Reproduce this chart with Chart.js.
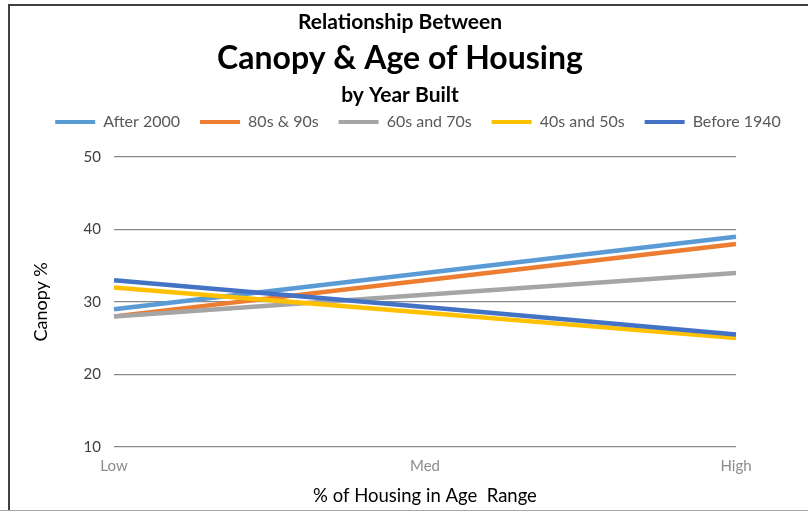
<!DOCTYPE html>
<html>
<head>
<meta charset="utf-8">
<script src="https://cdn.jsdelivr.net/npm/chart.js@4/dist/chart.umd.min.js"></script>
<style>
  html, body { margin: 0; padding: 0; background: #fff; }
  #wrap { position: relative; width: 808px; height: 511px; }
  #frame {
    position: absolute; left: 8px; top: 4px; right: 0; bottom: 0;
    border-top: 2px solid #404040; border-left: 2px solid #404040;
  }
  #baseline { position: absolute; left: 0; right: 0; bottom: 0; height: 1px; background: #a6a6a6; }
  canvas { position: absolute; left: 0; top: 0; }
</style>
</head>
<body>
<div id="wrap">
  <div id="frame"></div>
  <div id="baseline"></div>
  <canvas id="chart" width="808" height="511"></canvas>
</div>
<script>
const FONT = 'Lato, "Open Sans", sans-serif';

const titleLines = ['Relationship Between', 'Canopy & Age of Housing', 'by Year Built'];
const titleSizes = [21, 32, 21];

const categories = ['Low', 'Med', 'High'];
const seriesNames = ['After 2000', '80s & 90s', '60s and 70s', '40s and 50s', 'Before 1940'];
const seriesColors = ['#5B9BD5', '#ED7D31', '#A5A5A5', '#FFC000', '#4472C4'];

const after2000 = [29, 34, 39];
const eighties90s = [28, 33, 38];
const sixties70s = [28, 31, 34];
const forties50s = [32, 28.5, 25];
const before1940 = [33, 29.3, 25.5];
const seriesValues = [after2000, eighties90s, sixties70s, forties50s, before1940];

const yTicks = [10, 20, 30, 40, 50];

// three-line heading, each line with its own size
const headingPlugin = {
  id: 'heading',
  afterDraw(chart) {
    const ctx = chart.ctx;
    const cx = 400;
    const ys = [22, 59, 95];
    ctx.save();
    ctx.fillStyle = '#000';
    ctx.textAlign = 'center';
    ctx.textBaseline = 'middle';
    titleLines.forEach((t, i) => {
      ctx.font = 'bold ' + titleSizes[i] + 'px ' + FONT;
      ctx.fillText(t, cx, ys[i]);
    });
    ctx.restore();
  }
};

const datasets = seriesNames.map((name, i) => ({
  label: name,
  data: seriesValues[i],
  borderColor: seriesColors[i],
  backgroundColor: seriesColors[i],
  borderWidth: 4.5,
  pointRadius: 0,
  tension: 0,
  yAxisID: 'y',
  // later series are painted over earlier ones
  order: seriesNames.length - i
}));

// invisible scale used only to reserve space on one side of the plot
const spacer = (position, size) => ({
  position: position,
  grid: { display: false, drawTicks: false },
  border: { display: false },
  ticks: { display: false },
  afterFit(axis) {
    if (axis.isHorizontal()) axis.height = size; else axis.width = size;
  }
});

const ctx = document.getElementById('chart').getContext('2d');
new Chart(ctx, {
  type: 'line',
  data: { labels: categories, datasets: datasets },
  plugins: [headingPlugin],
  options: {
    responsive: false,
    animation: false,
    layout: { padding: { top: 94, left: 30, right: 2, bottom: 4 } },
    plugins: {
      tooltip: { enabled: false },
      legend: {
        position: 'top',
        labels: {
          font: { family: FONT, size: 16 },
          color: '#595959',
          boxWidth: 40,
          boxHeight: 4,
          padding: 20,
          sort: (a, b) => a.datasetIndex - b.datasetIndex,
          generateLabels(chart) {
            return Chart.defaults.plugins.legend.labels.generateLabels(chart)
              .map(l => Object.assign(l, { lineWidth: 0 }));
          }
        }
      }
    },
    scales: {
      x: {
        offset: false,
        grid: { display: false, drawTicks: false },
        border: { display: false },
        ticks: { font: { family: FONT, size: 15 }, color: '#8c8c8c', padding: 10 },
        title: {
          display: true,
          text: '% of Housing in Age  Range',
          font: { family: FONT, size: 18.5 },
          color: '#000',
          padding: { top: 0, bottom: 0 }
        }
      },
      y: {
        min: 10,
        max: 50,
        afterBuildTicks(axis) { axis.ticks = yTicks.map(v => ({ value: v })); },
        grid: { color: '#888', lineWidth: 1.3, drawTicks: false },
        border: { display: false },
        ticks: { font: { family: FONT, size: 15 }, color: '#404040', padding: 13 },
        title: {
          display: true,
          text: 'Canopy %',
          font: { family: FONT, size: 18 },
          color: '#000',
          padding: { top: 0, bottom: 19 }
        }
      },
      gapTop: spacer('top', 17),
      gapRight: spacer('right', 70)
    }
  }
});
</script>
</body>
</html>
